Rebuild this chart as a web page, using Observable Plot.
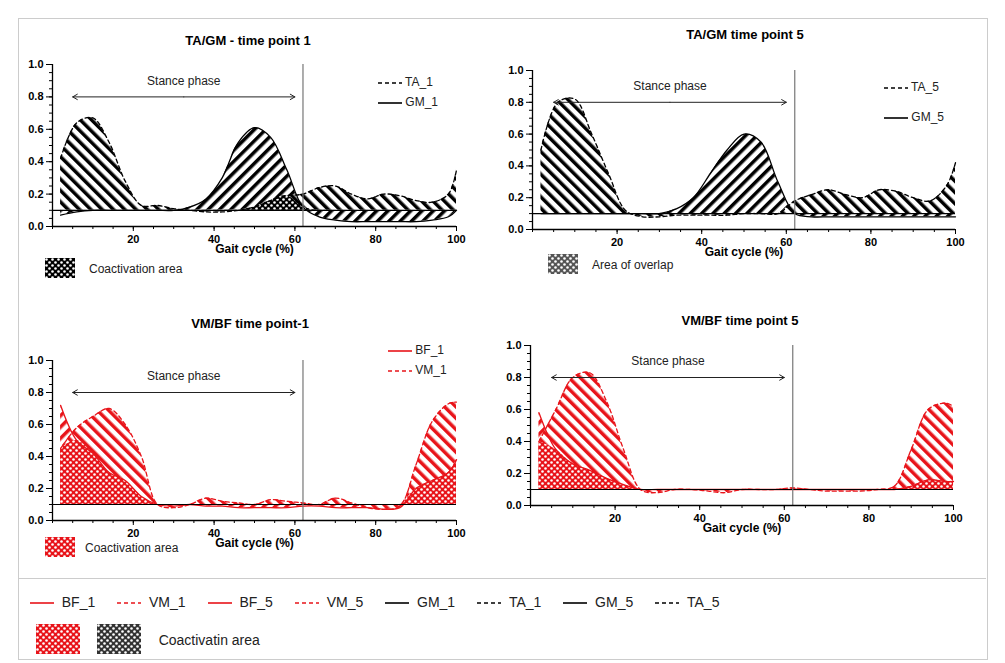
<!DOCTYPE html>
<html><head><meta charset="utf-8">
<script src="https://cdn.jsdelivr.net/npm/d3@7"></script>
<script src="https://cdn.jsdelivr.net/npm/@observablehq/plot@0.6"></script>
<style>
body{margin:0;background:#fff;font-family:Arial,"Liberation Sans",sans-serif;}
#root{position:relative;width:1005px;height:663px;overflow:hidden}
.abs{position:absolute}
.title{font-weight:bold;font-size:13px;color:#000;transform:translateX(-50%);white-space:nowrap}
.lg{font-size:12px;color:#222}
</style></head><body><div id="root"></div>
<script>
const xs=[2,6,10,14,18,22,26,30,34,38,42,46,50,54,58,62,66,70,74,78,82,86,90,94,98,100];
const TA_1=[0.42,0.64,0.67,0.52,0.28,0.13,0.13,0.11,0.1,0.09,0.09,0.1,0.12,0.16,0.19,0.2,0.24,0.25,0.2,0.17,0.2,0.19,0.16,0.15,0.2,0.35];
const GM_1=[0.07,0.09,0.1,0.1,0.1,0.1,0.1,0.1,0.12,0.17,0.3,0.52,0.61,0.55,0.35,0.12,0.06,0.04,0.03,0.03,0.03,0.03,0.03,0.04,0.06,0.1];
const TA_5=[0.5,0.8,0.82,0.6,0.35,0.12,0.08,0.08,0.09,0.09,0.09,0.09,0.1,0.1,0.1,0.18,0.22,0.25,0.22,0.2,0.25,0.24,0.2,0.18,0.28,0.42];
const GM_5=[0.1,0.1,0.1,0.1,0.1,0.1,0.1,0.1,0.13,0.2,0.35,0.5,0.6,0.55,0.3,0.1,0.08,0.08,0.08,0.08,0.08,0.08,0.08,0.08,0.08,0.08];
const BF_1=[0.72,0.5,0.42,0.3,0.25,0.15,0.1,0.09,0.1,0.09,0.09,0.08,0.08,0.08,0.08,0.09,0.09,0.08,0.08,0.08,0.07,0.08,0.2,0.25,0.3,0.38];
const VM_1=[0.45,0.58,0.65,0.7,0.6,0.4,0.1,0.08,0.1,0.14,0.12,0.11,0.1,0.13,0.12,0.11,0.1,0.14,0.11,0.08,0.07,0.09,0.35,0.62,0.73,0.74];
const BF_5=[0.58,0.35,0.26,0.22,0.17,0.13,0.1,0.1,0.1,0.1,0.1,0.1,0.1,0.1,0.1,0.1,0.1,0.1,0.1,0.1,0.1,0.1,0.12,0.16,0.15,0.15];
const VM_5=[0.4,0.6,0.8,0.83,0.65,0.35,0.1,0.08,0.1,0.1,0.09,0.08,0.1,0.1,0.1,0.11,0.1,0.09,0.09,0.09,0.1,0.12,0.35,0.6,0.64,0.62];
const yTicks=[0,0.2,0.4,0.6,0.8,1.0];
const xTicks=[20,40,60,80,100];
const baseline=0.1, toeOff=62, stance=[5,60];

const root=document.getElementById('root');
function add(html,x,y,cls){const d=document.createElement('div');d.className='abs '+(cls||'');d.style.left=x+'px';d.style.top=y+'px';d.innerHTML=html;root.appendChild(d);return d;}
function defs(id,col){return `<defs>
<pattern id="sa${id}" patternUnits="userSpaceOnUse" width="8" height="8" patternTransform="rotate(-45)"><rect width="8" height="8" fill="#fff"/><rect width="3.5" height="8" fill="${col}"/></pattern>
<pattern id="sb${id}" patternUnits="userSpaceOnUse" width="8" height="8" patternTransform="rotate(45)"><rect width="8" height="8" fill="#fff"/><rect width="3.5" height="8" fill="${col}"/></pattern>
<pattern id="dt${id}" patternUnits="userSpaceOnUse" width="6" height="6"><rect width="6" height="6" fill="${col}"/><circle cx="1.5" cy="1.5" r="1.3" fill="#fff"/><circle cx="4.5" cy="4.5" r="1.3" fill="#fff"/></pattern></defs>`;}

function panel(p){
  const data=xs.map((x,i)=>({x,a:p.a[i],b:p.b[i]}));
  const col=p.col, id=p.id;
  const svg=Plot.plot({
    width:p.w,height:p.h,marginLeft:52,marginRight:p.mr,marginTop:22,marginBottom:p.mb,
    style:{fontFamily:"Arial, Liberation Sans, sans-serif",fontSize:"11px",color:"#000"},
    x:{domain:[0,100]},y:{domain:[0,1]},
    marks:[
      Plot.areaY(data,{x:"x",y1:baseline,y2:"b",fill:`url(#sb${id})`,curve:"catmull-rom"}),
      Plot.areaY(data,{x:"x",y1:baseline,y2:"a",fill:`url(#sa${id})`,curve:"catmull-rom"}),
      Plot.areaY(data,{x:"x",y1:baseline,y2:d=>Math.max(baseline,Math.min(d.a,d.b)),fill:`url(#dt${id})`,curve:"catmull-rom"}),
      Plot.lineY(data,{x:"x",y:"b",stroke:col,strokeWidth:1.3,curve:"catmull-rom",strokeDasharray:p.bDash}),
      Plot.lineY(data,{x:"x",y:"a",stroke:col,strokeWidth:1.3,curve:"catmull-rom",strokeDasharray:p.aDash}),
      Plot.ruleY([baseline],{stroke:"#000",strokeWidth:1.2}),
      Plot.ruleX([toeOff],{stroke:"#777",strokeWidth:1.2}),
      Plot.arrow([{x1:(stance[0]+stance[1])/2,x2:stance[0]},{x1:(stance[0]+stance[1])/2,x2:stance[1]}],{x1:"x1",x2:"x2",y1:0.8,y2:0.8,stroke:"#222",headLength:8,strokeWidth:1}),
      Plot.text(["Stance phase"],{x:(stance[0]+stance[1])/2,y:0.9,text:d=>d,fontSize:12,fill:"#222"}),
      Plot.ruleX([0],{stroke:"#000",strokeWidth:1.3}),
      Plot.ruleY([0],{stroke:"#000",strokeWidth:1.3}),
      Plot.axisY(d3.range(0,1.001,0.05),{tickSize:3,text:null,label:null,tickWidth:1}),
      Plot.axisY(yTicks,{tickSize:6,tickFormat:d3.format(".1f"),fontWeight:"bold",label:null}),
      Plot.axisX(d3.range(0,100.1,5),{tickSize:3,text:null,label:null}),
      Plot.axisX(xTicks,{tickSize:5,fontWeight:"bold",label:null}),
      Plot.text(["Gait cycle (%)"],{x:50,frameAnchor:"bottom",dy:26,text:d=>d,fontWeight:"bold",fontSize:12})
    ]
  });
  svg.insertAdjacentHTML('afterbegin',defs(id,col));
  svg.style.position='absolute';svg.style.left=p.left+'px';svg.style.top=p.top+'px';
  root.appendChild(svg);
}
const frame=add('',18,18);frame.style.width='968px';frame.style.height='640px';frame.style.border='1px solid #ccc';
panel({id:1,a:TA_1,b:GM_1,col:"#000",aDash:"4,3",bDash:null,left:0,top:42,w:470,h:224,mr:14,mb:40});
panel({id:2,a:TA_5,b:GM_5,col:"#000",aDash:"4,3",bDash:null,left:480,top:48,w:489,h:221,mr:14,mb:40});
panel({id:3,a:VM_1,b:BF_1,col:"#e8141a",aDash:"4,3",bDash:null,left:0,top:338,w:470,h:222,mr:14,mb:40});
panel({id:4,a:VM_5,b:BF_5,col:"#e8141a",aDash:"4,3",bDash:null,left:478,top:323,w:489,h:222,mr:14,mb:40});

add('TA/GM - time point 1',248,33,'title');
add('TA/GM time point 5',745,27,'title');
add('VM/BF time point-1',250,316,'title');
add('VM/BF time point 5',740,313,'title');

function sw(dash,col){return `<svg width="24" height="8" style="vertical-align:middle"><line x1="0" x2="24" y1="4" y2="4" stroke="${col}" stroke-width="1.6" ${dash?'stroke-dasharray="4,3"':''}/></svg>`;}
function patBox(col,w,h){return `<svg width="${w}" height="${h}">${defs('L'+col.replace('#','')+w,col)}<rect width="${w}" height="${h}" fill="url(#dtL${col.replace('#','')+w})"/></svg>`;}
add(sw(1,'#000')+' TA_1<br>'+sw(0,'#000')+' GM_1',378,72,'lg').style.lineHeight='20px';
add(sw(1,'#000')+' TA_5<br>'+sw(0,'#000')+' GM_5',884,72,'lg').style.lineHeight='30px';
add(sw(0,'#e8141a')+' BF_1<br>'+sw(1,'#e8141a')+' VM_1',388,340,'lg').style.lineHeight='20px';
add(patBox('#000',30,20)+'<span style="position:relative;top:-5px;margin-left:14px">Coactivation area</span>',45,258,'lg');
add(patBox('#555',30,20)+'<span style="position:relative;top:-5px;margin-left:14px">Area of overlap</span>',548,254,'lg');
add(patBox('#e8141a',30,20)+'<span style="position:relative;top:-5px;margin-left:10px">Coactivation area</span>',45,537,'lg');
add('',18,578).style.cssText+='width:968px;border-top:1px solid #ccc';
const bl=[["BF_1",0,'#e8141a'],["VM_1",1,'#e8141a'],["BF_5",0,'#e8141a'],["VM_5",1,'#e8141a'],["GM_1",0,'#000'],["TA_1",1,'#000'],["GM_5",0,'#000'],["TA_5",1,'#000']];
add(bl.map(b=>`<span style="margin-right:22px">${sw(b[1],b[2])}&nbsp;&nbsp;${b[0]}</span>`).join(''),30,594,'lg').style.cssText+='font-size:14px;white-space:nowrap';
add(patBox('#e8141a',44,30)+'&nbsp;&nbsp;&nbsp;&nbsp;&nbsp;'+patBox('#333',44,30)+'<span style="position:relative;top:-9px;margin-left:18px;font-size:14px">Coactivatin area</span>',36,624,'lg');
</script></body></html>
